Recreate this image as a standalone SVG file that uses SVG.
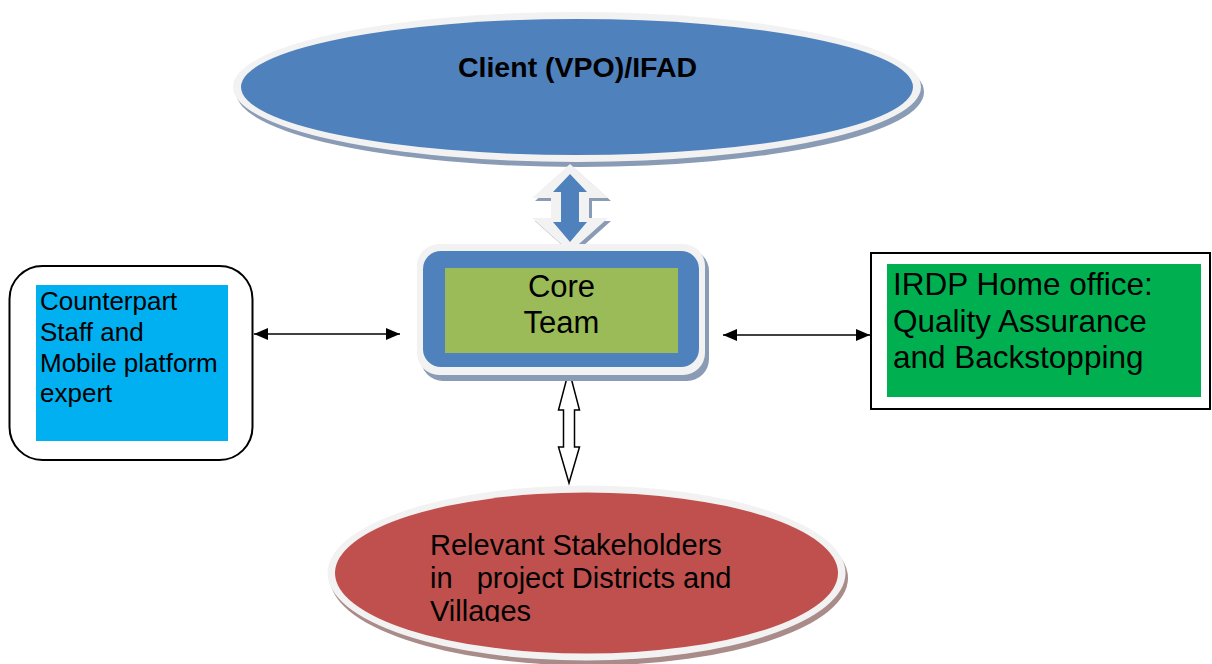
<svg xmlns="http://www.w3.org/2000/svg" width="1212" height="664" viewBox="0 0 1212 664">
<style>
  .t { font-family: "Liberation Sans", Arial, sans-serif; fill: #000; }
  .light { fill: #F2F2F2; }
  .shadow { fill: #8A9BB5; }
  .conn { stroke: #000; stroke-width: 1.5; fill: none; }
</style>
<defs>
  <marker id="ah" viewBox="0 0 14 12" refX="14" refY="6" markerWidth="14" markerHeight="12" markerUnits="userSpaceOnUse" orient="auto-start-reverse">
    <path d="M0,0 L14,6 L0,12 z" fill="#000"/>
  </marker>
  <clipPath id="clipV">
    <rect x="300" y="480" width="600" height="142"/>
  </clipPath>
</defs>
<rect width="1212" height="664" fill="#fff"/>

<g id="client">
  <ellipse class="shadow" cx="580" cy="92" rx="344" ry="75"/>
  <ellipse class="light" cx="577" cy="87" rx="344" ry="75"/>
  <ellipse cx="577" cy="87" rx="336" ry="68" fill="#4F81BD"/>
  <text class="t" x="577.5" y="77" font-size="28.5" font-weight="bold" text-anchor="middle">Client (VPO)/IFAD</text>
</g>

<g id="connectors">
  <g id="client-core-arrow">
    <polygon class="shadow" points="573,167 611,201 592,201 592,221 611,221 573,255 535,221 554,221 554,201 535,201"/>
    <polygon class="light" points="570,164 608,198 589,198 589,218 608,218 570,252 532,218 551,218 551,198 532,198"/>
    <polygon fill="#4F81BD" points="570,174 587,192 579,192 579,222 587,222 570,242 553,222 561,222 561,192 553,192"/>
  </g>
  <line class="conn" x1="254" y1="334" x2="400" y2="334" marker-start="url(#ah)" marker-end="url(#ah)"/>
  <line class="conn" x1="723" y1="335" x2="870" y2="335" marker-start="url(#ah)" marker-end="url(#ah)"/>
  <polygon points="569,370 579.5,410 574.5,410 574.5,447 579.5,447 569,483 558.5,447 563.5,447 563.5,410 558.5,410" fill="#fff" stroke="#000" stroke-width="1.5" stroke-linejoin="miter"/>
</g>

<g id="core">
  <rect class="shadow" x="421" y="249" width="288" height="132" rx="22"/>
  <rect class="light" x="417" y="244" width="288" height="131" rx="22"/>
  <rect x="423" y="251" width="276" height="116" rx="18" fill="#4F81BD"/>
  <rect x="445" y="268" width="233" height="85" fill="#9BBB59"/>
  <text class="t" x="561.5" y="297" font-size="31" text-anchor="middle">Core</text>
  <text class="t" x="561.5" y="333" font-size="31" text-anchor="middle">Team</text>
</g>

<g id="counterpart">
  <rect x="9.5" y="266" width="243" height="194" rx="33" fill="#fff" stroke="#000" stroke-width="2"/>
  <rect x="36" y="285" width="192" height="156" fill="#00B0F0"/>
  <text class="t" font-size="26">
    <tspan x="40" y="310">Counterpart</tspan>
    <tspan x="40" y="341">Staff and</tspan>
    <tspan x="40" y="372">Mobile platform</tspan>
    <tspan x="40" y="402">expert</tspan>
  </text>
</g>

<g id="irdp">
  <rect x="871" y="253" width="339" height="156" fill="#fff" stroke="#000" stroke-width="2"/>
  <rect x="887" y="264" width="314" height="133" fill="#00B050"/>
  <text class="t" font-size="31.5">
    <tspan x="893" y="295">IRDP Home office:</tspan>
    <tspan x="893" y="332">Quality Assurance</tspan>
    <tspan x="893" y="368">and Backstopping</tspan>
  </text>
</g>

<g id="stakeholders">
  <ellipse cx="589" cy="578" rx="259" ry="87.5" fill="#A98B8A"/>
  <ellipse class="light" cx="586.5" cy="573" rx="259" ry="87.5"/>
  <ellipse cx="586.5" cy="573" rx="251.5" ry="80.5" fill="#C0504D"/>
  <text class="t" font-size="29" xml:space="preserve" clip-path="url(#clipV)"><tspan x="430" y="555">Relevant Stakeholders</tspan><tspan x="430" y="588">in   project Districts and</tspan><tspan x="430" y="621">Villages</tspan></text>
</g>
</svg>
